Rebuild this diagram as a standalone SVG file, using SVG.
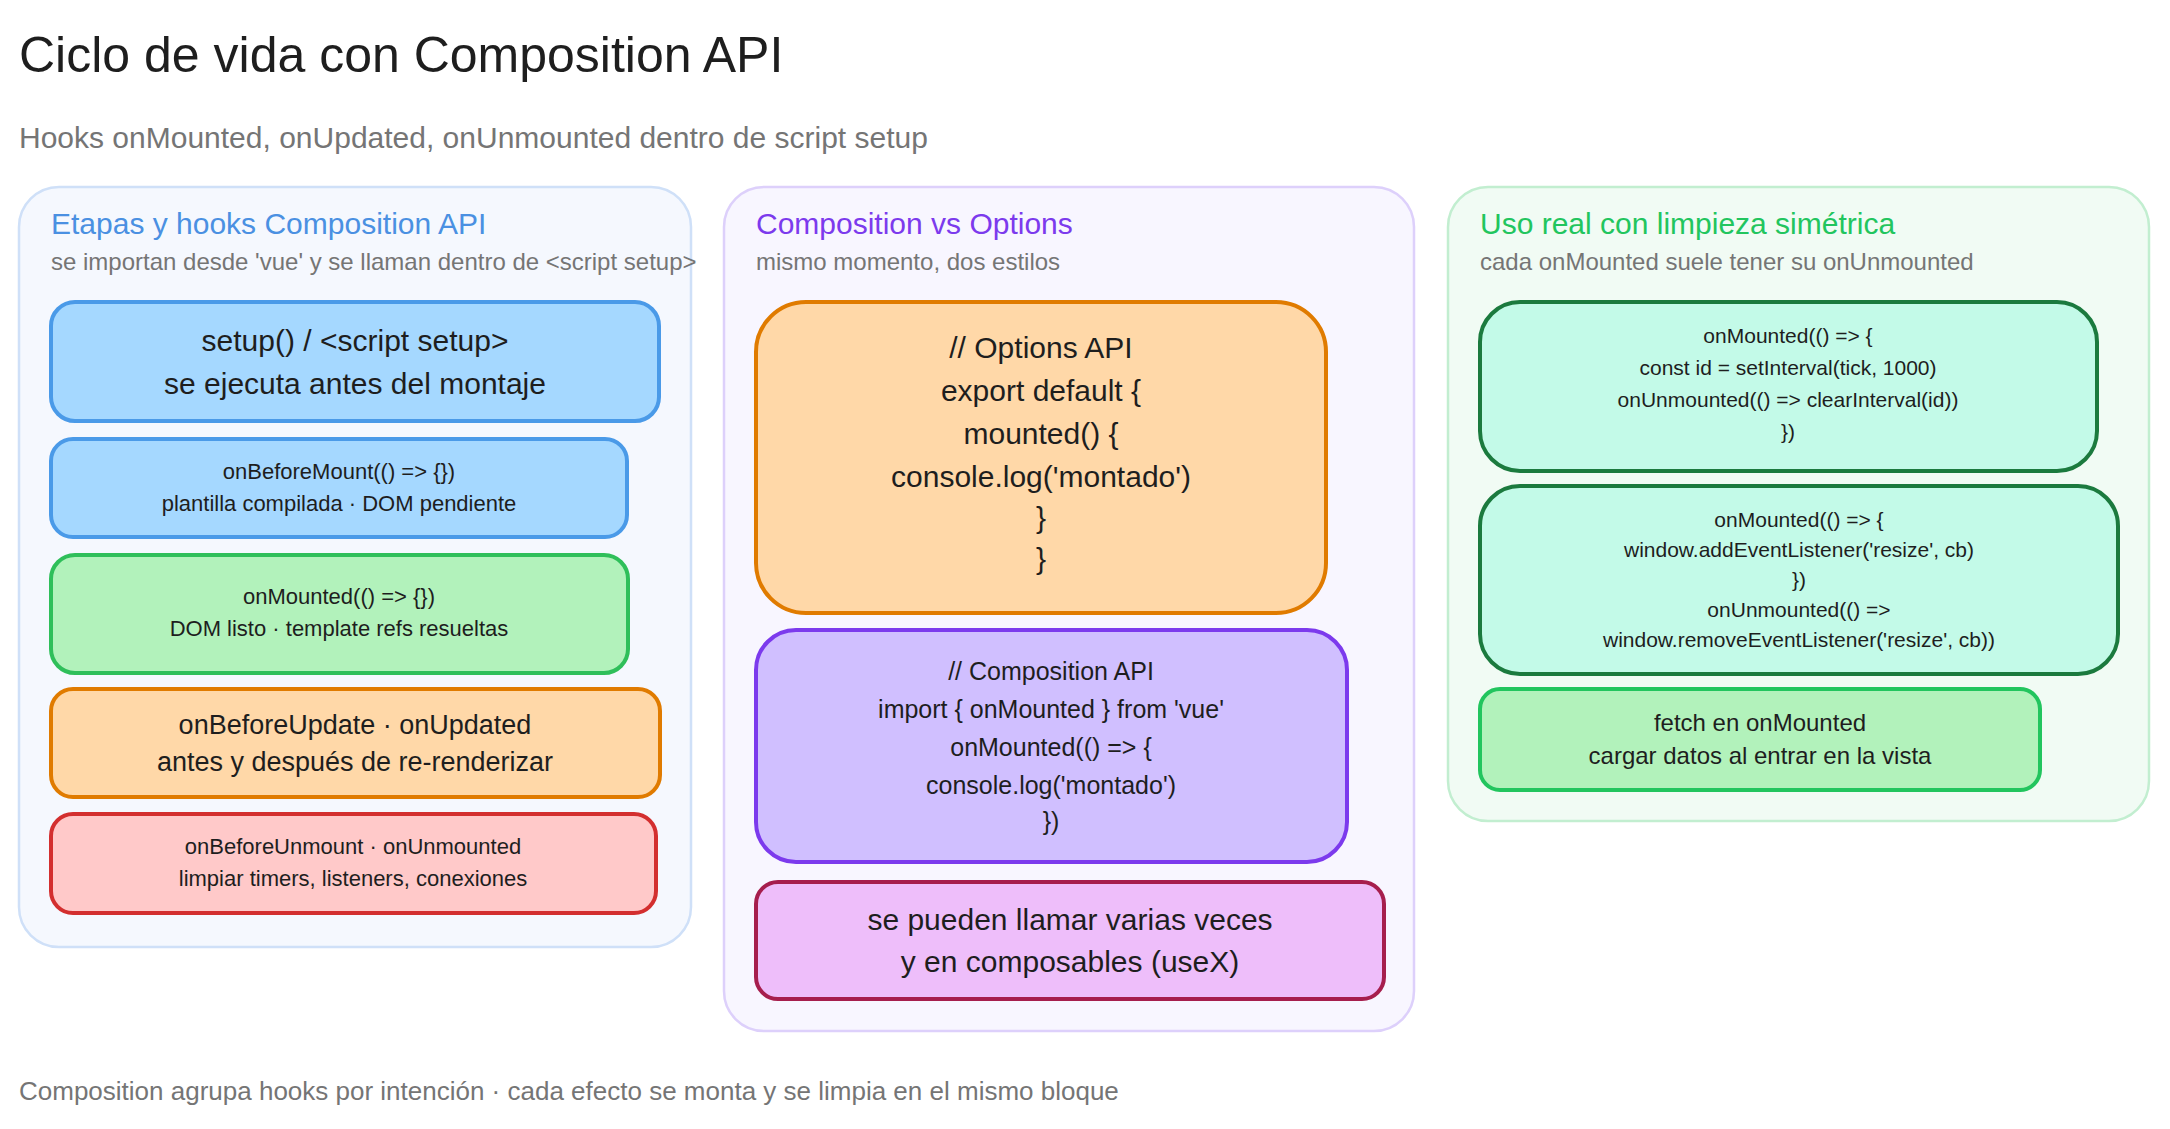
<svg xmlns="http://www.w3.org/2000/svg" width="2170" height="1129" viewBox="0 0 2170 1129">
<style>
text{font-family:"Liberation Sans","DejaVu Sans",sans-serif;fill:#1e1e1e}
.c{text-anchor:middle}
.panel{stroke-width:2.5}
.node{stroke-width:4}
.pt{font-size:30px}
.ps{font-size:24px;fill:#757575}
.t22{font-size:22px}.t30{font-size:30px}.t27{font-size:27px}.t25{font-size:25px}.t21{font-size:21px}.t24{font-size:24px}
</style>
<rect width="2170" height="1129" fill="#ffffff"/>
<text x="19" y="72" font-size="50">Ciclo de vida con Composition API</text>
<text x="19" y="148" font-size="30" fill="#757575" style="fill:#757575">Hooks onMounted, onUpdated, onUnmounted dentro de script setup</text>

<g id="panel-etapas">
<rect class="panel" x="19" y="187" width="672" height="760" rx="40" fill="#f5f8fe" stroke="#cfe0f8"/>
<text class="pt" x="51" y="234" style="fill:#4a90e2">Etapas y hooks Composition API</text>
<text class="ps" x="51" y="270">se importan desde 'vue' y se llaman dentro de &lt;script setup&gt;</text>
</g>
<g id="panel-vs">
<rect class="panel" x="724" y="187" width="690" height="844" rx="40" fill="#f8f6ff" stroke="#ddd0fb"/>
<text class="pt" x="756" y="234" style="fill:#7c3aed">Composition vs Options</text>
<text class="ps" x="756" y="270">mismo momento, dos estilos</text>
</g>
<g id="panel-uso">
<rect class="panel" x="1448" y="187" width="701" height="634" rx="40" fill="#f1fbf4" stroke="#c2eed0"/>
<text class="pt" x="1480" y="234" style="fill:#22c55e">Uso real con limpieza simétrica</text>
<text class="ps" x="1480" y="270">cada onMounted suele tener su onUnmounted</text>
</g>

<g id="n-setup"><rect class="node" x="51" y="302" width="608" height="119" rx="24" fill="#a5d8ff" stroke="#4a9ae8"/>
<text class="c t30" x="355" y="351">setup() / &lt;script setup&gt;</text><text class="c t30" x="355" y="394">se ejecuta antes del montaje</text></g>
<g id="n-beforemount"><rect class="node" x="51" y="439" width="576" height="98" rx="22" fill="#a5d8ff" stroke="#4a9ae8"/>
<text class="c t22" x="339" y="479">onBeforeMount(() =&gt; {})</text><text class="c t22" x="339" y="511">plantilla compilada · DOM pendiente</text></g>
<g id="n-mounted"><rect class="node" x="51" y="555" width="577" height="118" rx="24" fill="#b2f2bb" stroke="#2fbf5a"/>
<text class="c t22" x="339" y="604">onMounted(() =&gt; {})</text><text class="c t22" x="339" y="636">DOM listo · template refs resueltas</text></g>
<g id="n-update"><rect class="node" x="51" y="689" width="609" height="108" rx="22" fill="#ffd8a8" stroke="#e07b00"/>
<text class="c t27" x="355" y="734">onBeforeUpdate · onUpdated</text><text class="c t27" x="355" y="771">antes y después de re-renderizar</text></g>
<g id="n-unmount"><rect class="node" x="51" y="814" width="605" height="99" rx="22" fill="#ffc9c9" stroke="#d32f2f"/>
<text class="c t22" x="353" y="854">onBeforeUnmount · onUnmounted</text><text class="c t22" x="353" y="886">limpiar timers, listeners, conexiones</text></g>

<g id="n-options"><rect class="node" x="756" y="302" width="570" height="311" rx="50" fill="#ffd8a8" stroke="#e07b00"/>
<text class="c t30" x="1041" y="358">// Options API</text>
<text class="c t30" x="1041" y="401">export default {</text>
<text class="c t30" x="1041" y="444">mounted() {</text>
<text class="c t30" x="1041" y="487">console.log('montado')</text>
<text class="c t30" x="1041" y="528">}</text>
<text class="c t30" x="1041" y="569">}</text></g>
<g id="n-composition"><rect class="node" x="756" y="630" width="591" height="232" rx="40" fill="#d0bfff" stroke="#7c3aed"/>
<text class="c t25" x="1051" y="680">// Composition API</text>
<text class="c t25" x="1051" y="718">import { onMounted } from 'vue'</text>
<text class="c t25" x="1051" y="756">onMounted(() =&gt; {</text>
<text class="c t25" x="1051" y="794">console.log('montado')</text>
<text class="c t25" x="1051" y="830">})</text></g>
<g id="n-varias"><rect class="node" x="756" y="882" width="628" height="117" rx="22" fill="#eebefa" stroke="#a61e4d"/>
<text class="c t30" x="1070" y="930">se pueden llamar varias veces</text><text class="c t30" x="1070" y="972">y en composables (useX)</text></g>

<g id="n-interval"><rect class="node" x="1480" y="302" width="617" height="169" rx="40" fill="#c3fae8" stroke="#1b7a3e"/>
<text class="c t21" x="1788" y="343">onMounted(() =&gt; {</text>
<text class="c t21" x="1788" y="375">const id = setInterval(tick, 1000)</text>
<text class="c t21" x="1788" y="407">onUnmounted(() =&gt; clearInterval(id))</text>
<text class="c t21" x="1788" y="439">})</text></g>
<g id="n-resize"><rect class="node" x="1480" y="486" width="638" height="188" rx="40" fill="#c3fae8" stroke="#1b7a3e"/>
<text class="c t21" x="1799" y="527">onMounted(() =&gt; {</text>
<text class="c t21" x="1799" y="557">window.addEventListener('resize', cb)</text>
<text class="c t21" x="1799" y="587">})</text>
<text class="c t21" x="1799" y="617">onUnmounted(() =&gt;</text>
<text class="c t21" x="1799" y="647">window.removeEventListener('resize', cb))</text></g>
<g id="n-fetch"><rect class="node" x="1480" y="689" width="560" height="101" rx="20" fill="#b2f2bb" stroke="#22c55e"/>
<text class="c t24" x="1760" y="731">fetch en onMounted</text><text class="c t24" x="1760" y="764">cargar datos al entrar en la vista</text></g>

<g id="connectors"></g>
<text x="19" y="1100" font-size="26" style="fill:#757575">Composition agrupa hooks por intención · cada efecto se monta y se limpia en el mismo bloque</text>
</svg>
